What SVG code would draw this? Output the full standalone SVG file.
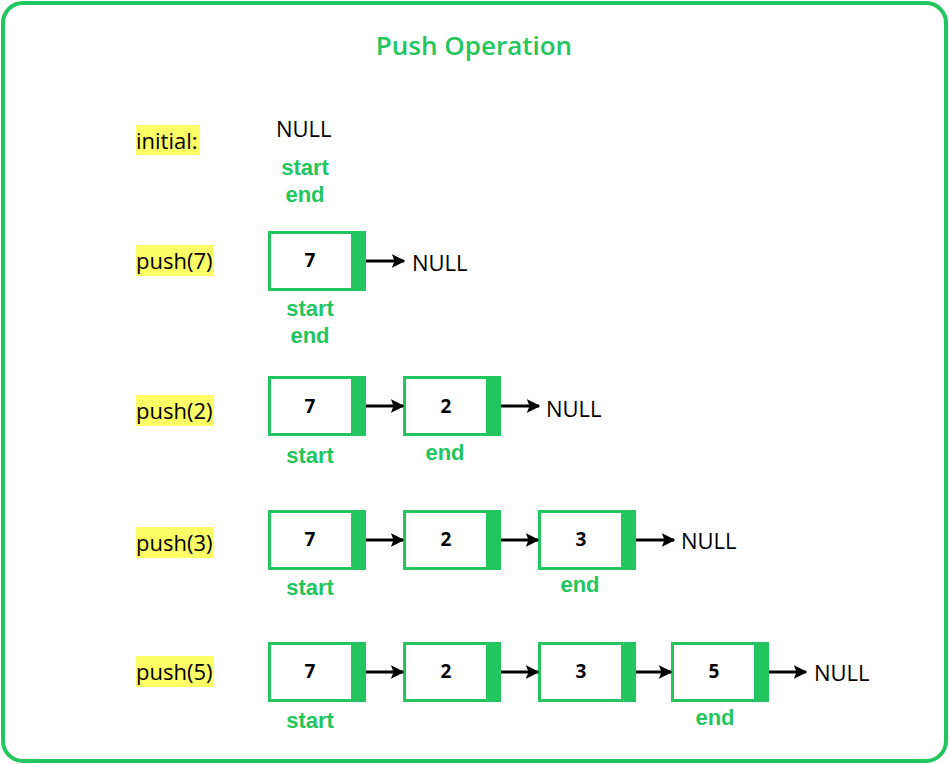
<svg xmlns="http://www.w3.org/2000/svg" width="949" height="764" viewBox="0 0 949 764">
<defs>
<style>
.lbl{font-family:"Open Sans","Noto Sans",sans-serif;font-size:22px;fill:#000}
.hl{fill:#FFFF66}
.g{font-family:"Liberation Sans",Arial,sans-serif;font-size:22px;fill:#22C55E;font-weight:bold;text-anchor:middle}
.null{font-family:"Open Sans","Noto Sans",sans-serif;font-size:22px;fill:#000}
.box{fill:#fff;stroke:#22C55E;stroke-width:3}
.bar{fill:#22C55E}
.val{font-family:"Open Sans","Noto Sans",sans-serif;font-size:19px;font-weight:bold;fill:#000;text-anchor:middle}
.arr{stroke:#000;stroke-width:3;fill:none;marker-end:url(#ah)}
</style>
<marker id="ah" viewBox="0 0 10 10" refX="9" refY="5" markerWidth="4.5" markerHeight="4.5" orient="auto" markerUnits="strokeWidth">
<path d="M0,0 L10,5 L0,10 L2,5 Z" fill="#000"/>
</marker>
</defs>
<rect x="0" y="0" width="949" height="764" fill="#fff"/>
<rect x="3" y="3" width="943" height="758" rx="20" fill="#fff" stroke="#22C55E" stroke-width="4"/>
<text x="474" y="55" text-anchor="middle" font-family="Open Sans, Noto Sans, sans-serif" font-size="26" font-weight="600" fill="#22C55E">Push Operation</text>

<g id="row-initial">
<rect class="hl" x="136" y="125" width="64" height="30"/>
<text class="lbl" x="136" y="149">initial:</text>
<text class="null" x="276" y="137">NULL</text>
<text class="g" x="305" y="175">start</text>
<text class="g" x="305" y="202">end</text>
</g>

<g id="row-push7">
<rect class="hl" x="136" y="245" width="78" height="31"/>
<text class="lbl" x="136" y="269">push(7)</text>
</g>
<g id="r1n1"><rect class="box" x="269.5" y="232.5" width="95" height="57"/><rect class="bar" x="351" y="231" width="15" height="60"/><text class="val" x="310" y="267">7</text></g>
<text class="null" x="412" y="271">NULL</text>
<text class="g" x="310" y="316">start</text>
<text class="g" x="310" y="343">end</text>

<g id="row-push2">
<rect class="hl" x="136" y="395" width="78" height="31"/>
<text class="lbl" x="136" y="419">push(2)</text>
</g>
<g id="r2n1"><rect class="box" x="269.5" y="377.5" width="95" height="57"/><rect class="bar" x="351" y="376" width="15" height="60"/><text class="val" x="310" y="413">7</text></g>
<g id="r2n2"><rect class="box" x="404.5" y="377.5" width="95" height="57"/><rect class="bar" x="486" y="376" width="15" height="60"/><text class="val" x="446" y="413">2</text></g>
<text class="null" x="546" y="417">NULL</text>
<text class="g" x="310" y="463">start</text>
<text class="g" x="445" y="460">end</text>

<g id="row-push3">
<rect class="hl" x="136" y="527" width="78" height="31"/>
<text class="lbl" x="136" y="551">push(3)</text>
</g>
<g id="r3n1"><rect class="box" x="269.5" y="511.5" width="95" height="57"/><rect class="bar" x="351" y="510" width="15" height="60"/><text class="val" x="310" y="546">7</text></g>
<g id="r3n2"><rect class="box" x="404.5" y="511.5" width="95" height="57"/><rect class="bar" x="486" y="510" width="15" height="60"/><text class="val" x="446" y="546">2</text></g>
<g id="r3n3"><rect class="box" x="539.5" y="511.5" width="95" height="57"/><rect class="bar" x="621" y="510" width="15" height="60"/><text class="val" x="581" y="546">3</text></g>
<text class="null" x="681" y="549">NULL</text>
<text class="g" x="310" y="595">start</text>
<text class="g" x="580" y="592">end</text>

<g id="row-push5">
<rect class="hl" x="136" y="656" width="78" height="31"/>
<text class="lbl" x="136" y="680">push(5)</text>
</g>
<g id="r4n1"><rect class="box" x="269.5" y="643.5" width="95" height="57"/><rect class="bar" x="351" y="642" width="15" height="60"/><text class="val" x="310" y="678">7</text></g>
<g id="r4n2"><rect class="box" x="404.5" y="643.5" width="95" height="57"/><rect class="bar" x="486" y="642" width="15" height="60"/><text class="val" x="446" y="678">2</text></g>
<g id="r4n3"><rect class="box" x="539.5" y="643.5" width="95" height="57"/><rect class="bar" x="621" y="642" width="15" height="60"/><text class="val" x="581" y="678">3</text></g>
<g id="r4n4"><rect class="box" x="672.5" y="643.5" width="95" height="57"/><rect class="bar" x="754" y="642" width="15" height="60"/><text class="val" x="714" y="678">5</text></g>
<text class="null" x="814" y="681">NULL</text>
<text class="g" x="310" y="728">start</text>
<text class="g" x="715" y="725">end</text>

<g id="connectors">
<line class="arr" x1="366" y1="261" x2="404" y2="261"/>
<line class="arr" x1="366" y1="406" x2="403" y2="406"/>
<line class="arr" x1="501" y1="406" x2="539" y2="406"/>
<line class="arr" x1="366" y1="540" x2="403" y2="540"/>
<line class="arr" x1="501" y1="540" x2="538" y2="540"/>
<line class="arr" x1="636" y1="540" x2="674" y2="540"/>
<line class="arr" x1="366" y1="672" x2="403" y2="672"/>
<line class="arr" x1="501" y1="672" x2="538" y2="672"/>
<line class="arr" x1="636" y1="672" x2="671" y2="672"/>
<line class="arr" x1="769" y1="672" x2="806" y2="672"/>
</g>
</svg>
